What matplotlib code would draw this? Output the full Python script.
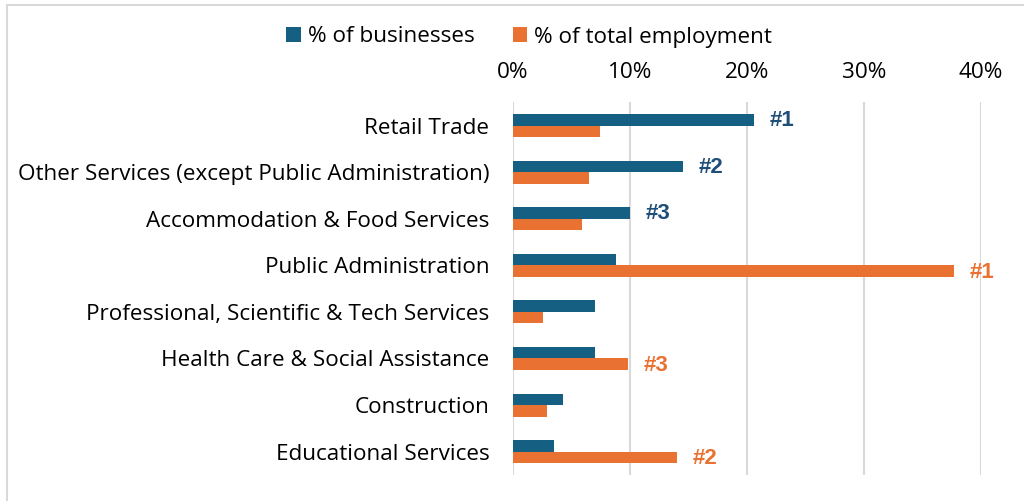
import matplotlib.pyplot as plt
from matplotlib.patches import Patch
from matplotlib.ticker import PercentFormatter
from matplotlib.lines import Line2D

# Industry shares (%)
industries = [
    "Retail Trade",
    "Other Services (except Public Administration)",
    "Accommodation & Food Services",
    "Public Administration",
    "Professional, Scientific & Tech Services",
    "Health Care & Social Assistance",
    "Construction",
    "Educational Services",
]
pct_businesses = [20.6, 14.5, 10.0, 8.8, 7.0, 7.0, 4.3, 3.5]
pct_employment = [7.4, 6.5, 5.9, 37.7, 2.6, 9.8, 2.9, 14.0]
rank_businesses = ["#1", "#2", "#3", "", "", "", "", ""]
rank_employment = ["", "", "", "#1", "", "#3", "", "#2"]

BLUE = "#156082"
ORANGE = "#E97132"
NAVY = "#1F4E79"
LABEL_FONT = "Open Sans"
FS = 16.2

fig = plt.figure(figsize=(10.24, 5.01), dpi=100)
ax = fig.add_axes([0.501, 0.052, 0.457, 0.744])

y = list(range(len(industries)))
h = 0.247
ax.barh([v - h / 2 for v in y], pct_businesses, height=h, color=BLUE, zorder=3)
ax.barh([v + h / 2 for v in y], pct_employment, height=h, color=ORANGE, zorder=3)

# Rank callouts to the right of the bars
for i, (val, rank) in enumerate(zip(pct_businesses, rank_businesses)):
    if rank:
        ax.annotate(rank, xy=(val, i - h / 2), xytext=(16, -1), textcoords="offset pixels",
                    ha="left", va="center", fontsize=16, fontweight="bold",
                    color=NAVY, family="Liberation Sans")
for i, (val, rank) in enumerate(zip(pct_employment, rank_employment)):
    if rank:
        ax.annotate(rank, xy=(val, i + h / 2), xytext=(16, -1), textcoords="offset pixels",
                    ha="left", va="center", fontsize=16, fontweight="bold",
                    color=ORANGE, family="Liberation Sans")

ax.set_xlim(0, 40)
ax.set_ylim(len(industries) - 0.5, -0.5)
ax.set_yticks(y)
ax.set_yticklabels(industries, fontsize=FS, family=LABEL_FONT, color="#000000")
ax.set_xticks([0, 10, 20, 30, 40])
ax.xaxis.set_major_formatter(PercentFormatter(decimals=0))
ax.xaxis.tick_top()
ax.tick_params(axis="x", length=0, pad=14, labelsize=FS)
ax.tick_params(axis="y", length=0, pad=17)
for lab in ax.get_xticklabels():
    lab.set_family(LABEL_FONT)
for s in ax.spines.values():
    s.set_visible(False)
ax.grid(axis="x", color="#D9D9D9", linewidth=1.5, zorder=0)

handles = [Patch(facecolor=BLUE), Patch(facecolor=ORANGE)]
fig.legend(handles, ["% of businesses", "% of total employment"], loc="center",
           bbox_to_anchor=(529 / 1024, 1 - 37 / 501), ncol=2, frameon=False,
           prop={"family": LABEL_FONT, "size": FS}, handlelength=0.65,
           handleheight=0.65, handletextpad=0.3, columnspacing=1.7)

# Chart area border (top and left edges)
fig.add_artist(Line2D([7 / 1024, 1], [1 - 5 / 501] * 2, color="#D9D9D9", linewidth=1.5))
fig.add_artist(Line2D([7 / 1024] * 2, [0, 1 - 5 / 501], color="#D9D9D9", linewidth=1.5))

fig.savefig("out.png", dpi=100, facecolor="white")
